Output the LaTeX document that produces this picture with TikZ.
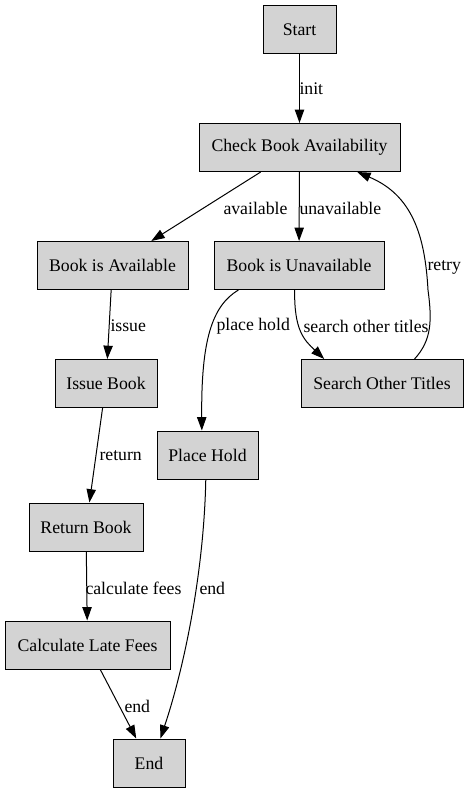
\documentclass[tikz,border=0pt]{standalone}
\usepackage{fontspec}
\setmainfont{Liberation Serif}
\usetikzlibrary{arrows.meta}
\definecolor{nodegray}{RGB}{211,211,211}
\begin{document}
\begin{tikzpicture}[x=0.75pt,y=-0.75pt,
  box/.style={draw=black, line width=0.75pt, fill=nodegray, minimum height=36pt, inner sep=0pt, font=\fontsize{13.3}{16}\selectfont},
  edge/.style={draw=black, line width=0.75pt, -{Triangle[length=10pt,width=7pt]}},
  lbl/.style={anchor=west, inner sep=0pt, font=\fontsize{13.3}{16}\selectfont}]
\useasboundingbox (0,0) rectangle (468,793);
% nodes
\node[box, minimum width=54.75pt]  (start)  at (299.5,29.5) {Start};
\node[box, minimum width=150.75pt] (check)  at (299.5,147.5) {Check Book Availability};
\node[box, minimum width=113.25pt] (avail)  at (112.5,265.5) {Book is Available};
\node[box, minimum width=127.5pt]  (unav)   at (299,265.5)  {Book is Unavailable};
\node[box, minimum width=121.5pt]  (search) at (382,383.5)  {Search Other Titles};
\node[box, minimum width=76.5pt]   (issue)  at (106,383.5)  {Issue Book};
\node[box, minimum width=75.75pt]  (hold)   at (207.5,455)  {Place Hold};
\node[box, minimum width=85.5pt]   (ret)    at (86,527)     {Return Book};
\node[box, minimum width=123.75pt] (calc)   at (87.5,645)   {Calculate Late Fees};
\node[box, minimum width=54pt]     (finish) at (149,763)    {End};
\coordinate (rmid) at (428,290);
% edges
\draw[edge] (start) -- (check) node[lbl] (linit) at (299,89) {init};
\draw[edge] (check) -- (avail) node[lbl] (lavail) at (223,208) {available};
\draw[edge] (check) -- (unav) node[lbl] (lunav) at (299,208) {unavailable};
\draw[edge] (unav.202) .. controls (212,306) and (201,340) .. (hold.103)
  node[lbl] (lhold) at (216,326) {place hold};
\draw[edge] (unav.260) .. controls (294,330) and (304,340) .. (search.157)
  node[lbl] (lsearch) at (303,326) {search other titles};
\draw[edge] (search.37) .. controls (432,340) and (432,320) .. (rmid)
  .. controls (425,235) and (412,195) .. (check.337)
  node[lbl] (lretry) at (427,267) {retry};
\draw[edge] (avail) -- (issue) node[lbl] (lissue) at (110,326) {issue};
\draw[edge] (issue) -- (ret) node[lbl] (lreturn) at (99,456) {return};
\draw[edge] (ret) -- (calc) node[lbl] (lcalc) at (85,588) {calculate fees};
\draw[edge] (calc) -- (finish) node[lbl] (lend1) at (124,706) {end};
\draw[edge] (hold.266) .. controls (204,570) and (185,665) .. (finish.65)
  node[lbl] (lend2) at (199,588) {end};
\end{tikzpicture}
\end{document}
